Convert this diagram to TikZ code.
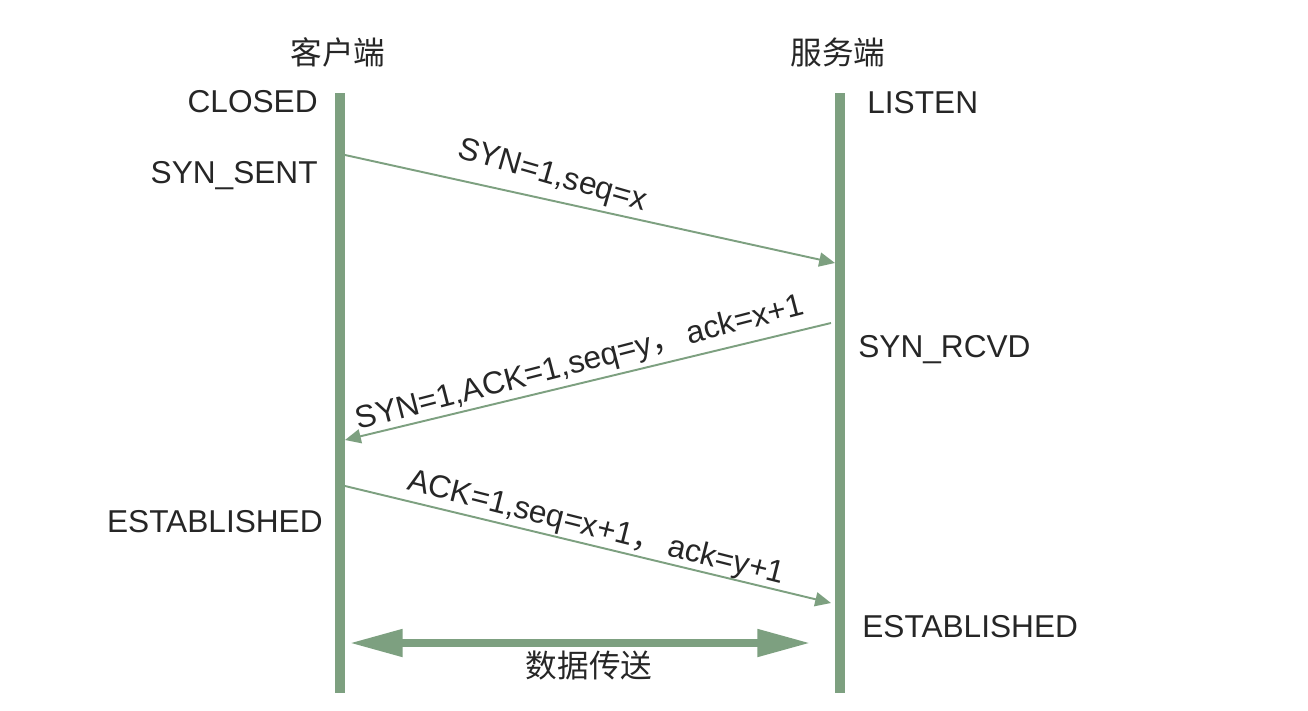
\documentclass[tikz,border=0pt]{standalone}
\usepackage{fontspec}
\setmainfont{Liberation Sans}
\newfontfamily\cjk{Noto Sans CJK SC}
\usetikzlibrary{arrows.meta}
\definecolor{lifegreen}{RGB}{125,160,128}
\definecolor{txtgray}{RGB}{38,38,38}
\tikzset{
  lifeline/.style={draw=lifegreen, line width=5.4pt},
  msg/.style={draw=lifegreen, line width=1.1pt, -{Triangle[length=9pt,width=8pt]}},
  databar/.style={draw=lifegreen, line width=4pt, {Triangle[length=30pt,width=15pt]}-{Triangle[length=30pt,width=15pt]}},
  state/.style={text=txtgray, font=\fontsize{18}{22}\selectfont, inner sep=0pt},
  who/.style={text=txtgray, font=\fontsize{18}{22}\selectfont\cjk, inner sep=0pt},
  msglabel/.style={text=txtgray, font=\fontsize{18}{22}\selectfont, inner sep=0pt, anchor=base},
}
\begin{document}
\begin{tikzpicture}[x=0.02cm, y=-0.02cm]
  \path[use as bounding box, fill=white] (0,0) rectangle (1308,710);

  % lifelines
  \coordinate (cTop) at (340,93);
  \coordinate (cBot) at (340,693);
  \coordinate (sTop) at (840,93);
  \coordinate (sBot) at (840,693);
  \draw[lifeline] (cTop) -- (cBot);
  \draw[lifeline] (sTop) -- (sBot);

  % headers
  \node[who] (client) at (338,52) {客户端};
  \node[who] (server) at (838,52) {服务端};

  % states
  \node[state, anchor=base east] (closed) at (318,112) {CLOSED};
  \node[state, anchor=base east] (synsent) at (318,183) {SYN\_SENT};
  \node[state, anchor=base east] (estc) at (323,532) {ESTABLISHED};
  \node[state, anchor=base west] (listen) at (867,113) {LISTEN};
  \node[state, anchor=base west] (synrcvd) at (858,357) {SYN\_RCVD};
  \node[state, anchor=base west] (ests) at (862,637) {ESTABLISHED};

  % message endpoints
  \coordinate (m1a) at (345,155);
  \coordinate (m1b) at (835,263);
  \coordinate (m2a) at (831,323);
  \coordinate (m2b) at (345,440);
  \coordinate (m3a) at (345,486);
  \coordinate (m3b) at (831,603);

  \draw[msg] (m1a) -- (m1b);
  \draw[msg] (m2a) -- (m2b);
  \draw[msg] (m3a) -- (m3b);

  \node[msglabel, rotate=-16] (l1) at (550,184) {SYN=1,seq=x};
  \node[msglabel, rotate=14.5] (l2) at (582,372) {SYN=1,ACK=1,seq=y{\cjk ，}\,ack=x+1};
  \node[msglabel, rotate=-14.1] (l3) at (594,537) {ACK=1,seq=x+1{\cjk ，}\,ack=y+1};

  % data transfer
  \coordinate (d1) at (350,643);
  \coordinate (d2) at (810,643);
  \draw[databar] (d1) -- (d2);
  \node[who] (data) at (589,666) {数据传送};
\end{tikzpicture}
\end{document}
